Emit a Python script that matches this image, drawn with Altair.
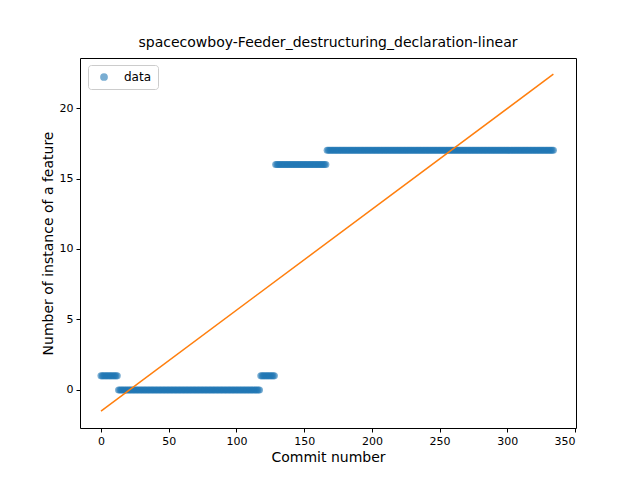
import altair as alt
import pandas as pd

# runs of (feature count, number of consecutive commits)
run_values = [1, 0, 1, 16, 17]
run_lengths = [13, 105, 11, 38, 168]

# fitted linear trend endpoints
fit_x = [0, 334]
fit_y = [-1.5, 22.4]

commits, counts = [], []
c = 0
for v, n in zip(run_values, run_lengths):
    for _ in range(n):
        commits.append(c)
        counts.append(v)
        c += 1

pts = pd.DataFrame({"commit": commits, "count": counts, "series": "data"})
fit = pd.DataFrame({"commit": fit_x, "count": fit_y})

xs = alt.Scale(domain=[-15.5, 350.7], nice=False, zero=False)
ys = alt.Scale(domain=[-2.7, 23.55], nice=False, zero=False)

points = alt.Chart(pts).mark_circle(size=50, opacity=0.6).encode(
    x=alt.X("commit:Q", scale=xs, title="Commit number",
            axis=alt.Axis(values=list(range(0, 351, 50)))),
    y=alt.Y("count:Q", scale=ys, title="Number of instance of a feature",
            axis=alt.Axis(values=[0, 5, 10, 15, 20])),
    color=alt.Color("series:N", scale=alt.Scale(range=["#1f77b4"]),
                    legend=alt.Legend(title=None, orient="none", legendX=8, legendY=7,
                                      fillColor="white", strokeColor="#cccccc",
                                      padding=6, cornerRadius=3, symbolOpacity=0.6,
                                      symbolSize=60, labelFontSize=12, symbolOffset=4,
                                      labelOffset=14)),
)

line = alt.Chart(fit).mark_line(color="#ff7f0e", strokeWidth=1.5).encode(
    x=alt.X("commit:Q", scale=xs),
    y=alt.Y("count:Q", scale=ys),
)

chart = (points + line).properties(
    width=496, height=370,
    title=alt.Title("spacecowboy-Feeder_destructuring_declaration-linear",
                    fontSize=14, fontWeight="normal", font="DejaVu Sans", offset=8),
    autosize=alt.AutoSizeParams(type="none"),
    padding={"left": 72, "top": 50, "right": 56, "bottom": 44},
).configure_view(stroke="black", strokeWidth=1).configure_axis(
    grid=False, domain=False, tickColor="black", labelColor="black",
    labelFont="DejaVu Sans", titleFont="DejaVu Sans", labelFontSize=11,
    titleFontSize=14, titleFontWeight="normal", tickSize=4, labelPadding=3,
).configure_legend(labelFont="DejaVu Sans")

chart.save("out.html", embed_options={"renderer": "svg", "actions": False})
